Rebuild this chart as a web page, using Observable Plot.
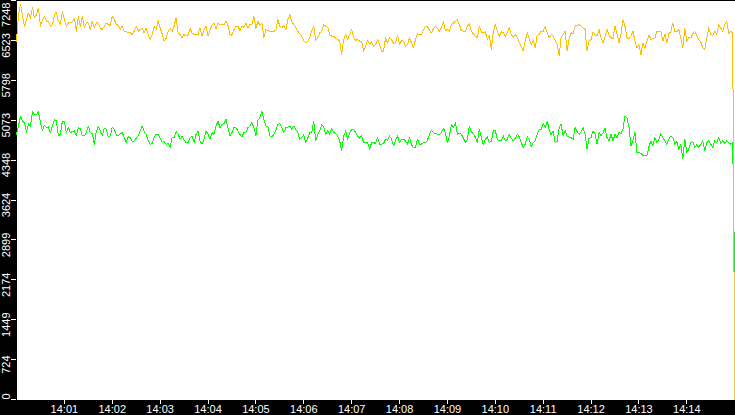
<!DOCTYPE html>
<html>
<head>
<meta charset="utf-8">
<script src="https://cdn.jsdelivr.net/npm/d3@7"></script>
<script src="https://cdn.jsdelivr.net/npm/@observablehq/plot@0.6"></script>
<style>
  html, body { margin: 0; padding: 0; background: #000; }
  #chart svg { display: block; }
</style>
</head>
<body>
<div id="chart"></div>
<script>
// ---- data ----
const startTime = "2000-01-01T14:00:00Z";
const endTime = "2000-01-01T14:15:01Z";
const stepMs = 2500; // one sample every 2.5 s
const yMax = 7248;
const yTickValues = [0, 724.8, 1449.6, 2174.4, 2899.2, 3624, 4348.8, 5073.6, 5798.4, 6523.2, 7248];
const yTickLabels = ["0", "724", "1449", "2174", "2899", "3624", "4348", "5073", "5798", "6523", "7248"];
const xTickLabels = ["14:01","14:02","14:03","14:04","14:05","14:06","14:07","14:08","14:09","14:10","14:11","14:12","14:13","14:14"];

const orangeValues = [
6510,6990,7182,6960,6780,6900,7020,6930,7122,6930,
6990,7110,6780,6900,6960,6870,6870,6780,6810,6990,
7038,6870,6810,7050,6900,6780,6840,6840,6858,6930,
6690,6960,6780,6960,6750,6840,6840,6720,6870,6750,
6840,6840,6750,6720,6780,6840,6810,6798,6960,6900,
6810,6798,6720,6780,6690,6690,6660,6660,6630,6690,
6780,6690,6720,6738,6660,6750,6630,6540,6630,6780,
6720,6882,6750,6642,6510,6558,6690,6738,6690,6780,
6930,6660,6630,6570,6630,6600,6630,6738,6660,6630,
6630,6630,6750,6600,6720,6780,6600,6720,6798,6840,
6738,6840,6810,6810,6810,6870,6798,6630,6618,6720,
6780,6780,6702,6780,6762,6840,6750,6810,6822,6960,
6738,6870,6798,6840,6582,6720,6702,6690,6690,6690,
6702,6900,6780,6750,6798,6720,6900,6990,6858,6810,
6762,6690,6642,6600,6522,6480,6498,6570,6702,6780,
6522,6570,6660,6690,6810,6780,6762,6630,6600,6600,
6558,6540,6510,6270,6540,6630,6540,6630,6720,6570,
6522,6540,6510,6510,6330,6420,6522,6450,6498,6420,
6450,6540,6450,6330,6330,6570,6480,6570,6540,6462,
6480,6618,6450,6522,6510,6420,6450,6570,6480,6390,
6540,6642,6630,6630,6720,6780,6780,6702,6660,6738,
6780,6738,6690,6750,6870,6702,6720,6690,6810,6840,
6870,6900,6810,6702,6690,6690,6780,6822,6690,6642,
6600,6570,6780,6678,6660,6678,6540,6618,6360,6690,
6810,6690,6600,6678,6660,6600,6660,6762,6630,6582,
6630,6582,6480,6420,6330,6522,6660,6558,6450,6522,
6390,6618,6630,6690,6690,6780,6660,6570,6630,6600,
6522,6450,6240,6582,6630,6690,6330,6558,6660,6642,
6780,6798,6810,6780,6750,6720,6330,6510,6540,6678,
6630,6600,6720,6570,6480,6582,6720,6618,6570,6558,
6780,6642,6480,6642,6900,6780,6570,6558,6600,6690,
6510,6390,6450,6258,6480,6378,6510,6618,6540,6558,
6570,6690,6690,6678,6510,6642,6480,6642,6690,6840,
6690,6678,6720,6558,6390,6738,6510,6570,6570,6642,
6690,6618,6540,6498,6390,6360,6570,6750,6630,6618,
6690,6630,6810,6750,6690,6810,6870,6642,6690,6660,
0
];

const greenValues = [
4818,4968,5148,5058,5028,4848,5010,4968,5226,5178,
5178,5226,5028,4878,4986,4938,4950,4848,4968,5088,
5058,4788,4818,5058,5046,4848,4950,4848,4866,4878,
4788,4938,4926,4788,4788,4848,4968,4848,4830,4638,
4866,4968,4878,4788,4926,4908,4770,4788,4950,4908,
4806,4788,4830,4848,4758,4668,4770,4758,4686,4698,
4746,4788,4878,4968,4866,4818,4710,4638,4650,4758,
4818,4818,4746,4668,4686,4638,4650,4578,4758,4758,
4866,4818,4728,4788,4710,4668,4668,4758,4788,4668,
4818,4878,4698,4638,4728,4878,4818,4728,4848,4818,
4968,5058,4938,4998,5010,5088,4938,4788,4848,4938,
4938,4878,4818,4770,4848,4848,4938,4968,5028,4938,
4788,5070,5118,5226,5088,4968,4968,4788,4770,4818,
4878,4998,5010,4938,4848,4938,4950,4968,4908,4968,
4908,4848,4728,4758,4806,4668,4746,4848,4848,5058,
4698,4818,4878,4998,4950,4818,4878,4818,4926,4848,
4830,4788,4698,4518,4788,4878,4728,4848,4908,4908,
4848,4788,4746,4788,4668,4668,4668,4548,4668,4668,
4650,4758,4638,4638,4650,4728,4710,4788,4728,4608,
4710,4788,4668,4728,4728,4698,4638,4758,4626,4578,
4578,4728,4638,4638,4668,4668,4710,4818,4890,4848,
4830,4818,4806,4848,4926,4848,4668,4788,4998,4938,
5028,4818,4830,4818,4746,4668,4728,4968,4866,4818,
4770,4668,4908,4758,4626,4728,4770,4668,4686,4878,
4890,4728,4698,4698,4788,4698,4728,4818,4746,4698,
4746,4818,4770,4668,4578,4638,4770,4728,4590,4668,
4698,4818,4908,4908,5010,4938,5058,4908,4806,4878,
4668,4686,4938,4998,4788,4890,4788,4770,4758,4728,
4938,4866,4818,4866,4938,4818,4548,4746,4758,4878,
4818,4638,4848,4788,4848,4926,4758,4698,4818,4698,
4818,4746,4848,4830,4908,5148,5118,4950,4608,4710,
4848,4488,4488,4470,4428,4428,4428,4590,4698,4608,
4758,4668,4728,4830,4758,4698,4638,4728,4788,4758,
4638,4686,4548,4626,4368,4728,4488,4548,4668,4686,
4578,4626,4578,4638,4698,4518,4668,4698,4638,4578,
4698,4668,4758,4650,4698,4650,4698,4668,4638,4668,
2210
];

// ---- build tables ----
const t0 = new Date(startTime).getTime();
const timeAt = i => new Date(t0 + i * stepMs);
const orange = orangeValues.map((v, i) => ({t: timeAt(i), v}));
const green = greenValues.map((v, i) => ({t: timeAt(i), v}));
const xTicks = xTickLabels.map(s => new Date(`2000-01-01T${s}:00Z`));
const labelOf = v => yTickLabels[yTickValues.indexOf(v)];
const midTicks = yTickValues.slice(1, -1);

const chart = Plot.plot({
  width: 735,
  height: 415,
  marginLeft: 16,
  marginRight: 0,
  marginTop: 0,
  marginBottom: 16,
  style: {
    background: "black",
    color: "white",
    fontFamily: "'Liberation Sans', Arial, sans-serif",
    fontSize: "11px",
    overflow: "visible"
  },
  x: {type: "utc", domain: [new Date(startTime), new Date(endTime)]},
  y: {domain: [0, yMax]},
  marks: [
    Plot.frame({fill: "white", stroke: "none"}),
    Plot.lineY(green, {x: "t", y: "v", stroke: "#00ff00", strokeWidth: 1}),
    Plot.lineY(orange, {x: "t", y: "v", stroke: "#ffc000", strokeWidth: 1}),
    Plot.axisX({ticks: xTicks, tickFormat: d3.utcFormat("%H:%M"), tickSize: 5, tickPadding: 1, stroke: "white", fill: "white", label: null}),
    Plot.axisY({ticks: yTickValues, tickSize: 5, tickFormat: () => "", stroke: "white", label: null}),
    Plot.text([yTickValues[0]], {y: d => d, text: labelOf, frameAnchor: "left", dx: -10, rotate: -90, textAnchor: "start", fill: "white"}),
    Plot.text(midTicks, {y: d => d, text: labelOf, frameAnchor: "left", dx: -10, dy: 5, rotate: -90, textAnchor: "middle", fill: "white"}),
    Plot.text([yTickValues[yTickValues.length - 1]], {y: d => d, text: labelOf, frameAnchor: "left", dx: -10, dy: 2, rotate: -90, textAnchor: "end", fill: "white"})
  ]
});
chart.style.shapeRendering = "crispEdges";
document.getElementById("chart").appendChild(chart);
</script>
</body>
</html>
